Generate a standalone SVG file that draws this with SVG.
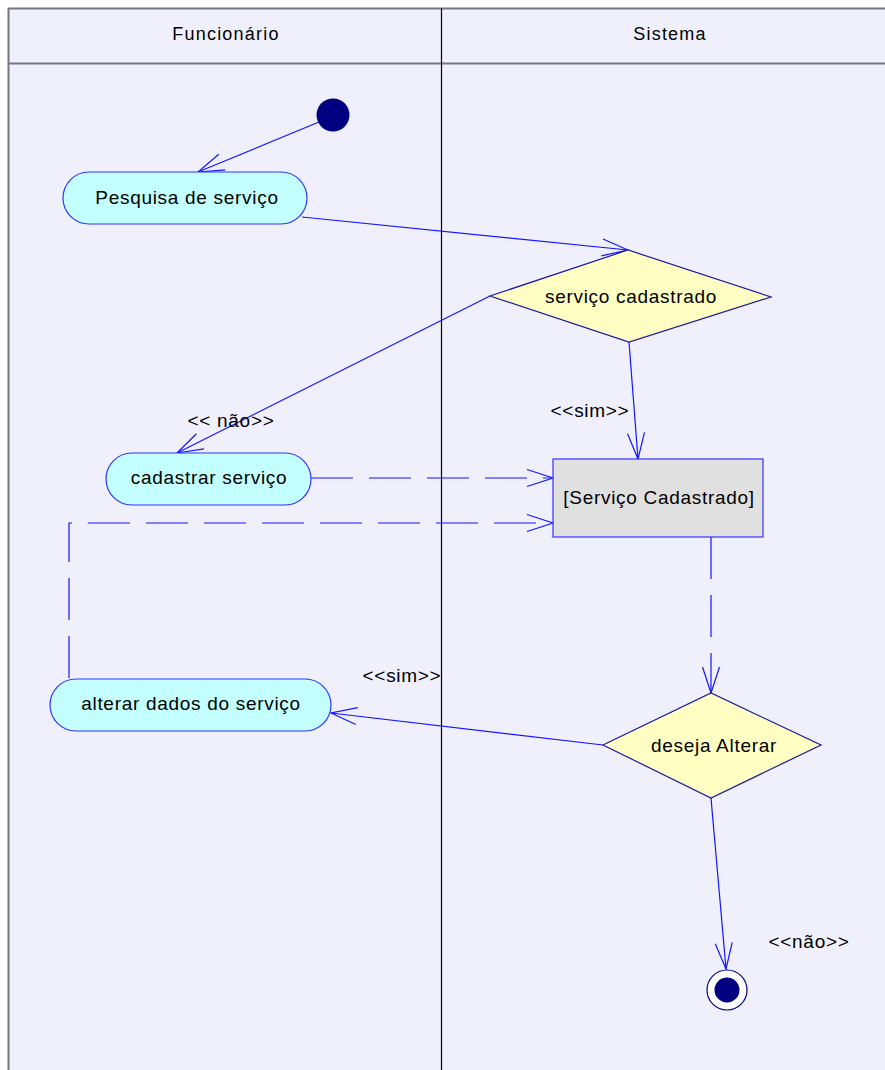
<svg xmlns="http://www.w3.org/2000/svg" width="885" height="1070" viewBox="0 0 885 1070">
<defs>
<style>
.bg{fill:#f0f0fc}
.frame{stroke:#77777f;stroke-width:2;fill:none}
.div{stroke:#000;stroke-width:1.2}
.t{font-family:"Liberation Sans",Arial,sans-serif;font-size:19px;letter-spacing:0.7px;fill:#000;text-anchor:middle;dominant-baseline:central}
.h{font-size:18px;letter-spacing:1.2px}
.act{fill:#c4ffff;stroke:#3333ff;stroke-width:1.2}
.dec{fill:#ffffc4;stroke:#1a1a9e;stroke-width:1.2}
.obj{fill:#e0e0e0;stroke:#3333ff;stroke-width:1.2}
.c{stroke:#1515ff;stroke-width:1.2;fill:none;marker-end:url(#arr)}
.d{stroke:#1515ff;stroke-width:1.2;fill:none;stroke-dasharray:42 16}
.dm{marker-end:url(#arr)}
</style>
<marker id="arr" markerUnits="userSpaceOnUse" markerWidth="40" markerHeight="30" viewBox="-30 -15 40 30" refX="0" refY="0" orient="auto" overflow="visible">
<path d="M -26 -8.5 L 0 0 L -26 8.5" fill="none" stroke="#1515ff" stroke-width="1.2"/>
</marker>
</defs>
<rect x="0" y="0" width="885" height="1070" fill="#ffffff"/>
<rect x="8" y="8" width="877" height="1062" class="bg"/>
<g id="lanes">
<line x1="8.5" y1="8.5" x2="885" y2="8.5" class="frame"/>
<line x1="8.5" y1="63.5" x2="885" y2="63.5" class="frame"/>
<line x1="8.5" y1="8" x2="8.5" y2="1070" class="frame"/>
<line x1="441.5" y1="8" x2="441.5" y2="1070" class="div"/>
<text x="226" y="34" class="t h">Funcionário</text>
<text x="670" y="34" class="t h">Sistema</text>
</g>
<g id="connectors">
<line x1="319" y1="122" x2="198" y2="172" class="c"/>
<line x1="302" y1="217" x2="628" y2="250" class="c"/>
<line x1="490" y1="296" x2="177" y2="453" class="c"/>
<line x1="629" y1="342" x2="638" y2="459" class="c"/>
<path d="M 311 478 L 553 478" class="d dm"/>
<path d="M 69 678 L 69 523 L 553 523" class="d dm"/>
<path d="M 711 537 L 711 693" class="d dm"/>
<line x1="603" y1="745" x2="331" y2="713" class="c"/>
<line x1="711" y1="798" x2="726" y2="969" class="c"/>
<text x="231" y="420" class="t">&lt;&lt; não&gt;&gt;</text>
<text x="590" y="410" class="t">&lt;&lt;sim&gt;&gt;</text>
<text x="402" y="675" class="t">&lt;&lt;sim&gt;&gt;</text>
<text x="809" y="941" class="t">&lt;&lt;não&gt;&gt;</text>
</g>
<g id="start"><circle cx="333" cy="115" r="16.5" fill="#000080"/></g>
<g id="pesquisa">
<rect x="63" y="172" width="244" height="52" rx="26" class="act"/>
<text x="187" y="197" class="t">Pesquisa de  serviço</text>
</g>
<g id="servico-cadastrado-dec">
<polygon points="490,296 628,250 771,297 629,342" class="dec"/>
<text x="631" y="296" class="t">serviço cadastrado</text>
</g>
<g id="cadastrar">
<rect x="106" y="453" width="205" height="52" rx="26" class="act"/>
<text x="209" y="477" class="t">cadastrar serviço</text>
</g>
<g id="obj-servico">
<rect x="553" y="459" width="210" height="78" class="obj"/>
<text x="659" y="497" class="t">[Serviço Cadastrado]</text>
</g>
<g id="alterar">
<rect x="50" y="679" width="281" height="52" rx="26" class="act"/>
<text x="191" y="703" class="t">alterar dados do serviço</text>
</g>
<g id="deseja-alterar">
<polygon points="603,745 711,693 821,745 711,798" class="dec"/>
<text x="714" y="745" class="t">deseja Alterar</text>
</g>
<g id="end">
<circle cx="727" cy="990" r="20" fill="#ffffff" stroke="#000080" stroke-width="1.2"/>
<circle cx="727" cy="990" r="12.5" fill="#000080"/>
</g>
</svg>
